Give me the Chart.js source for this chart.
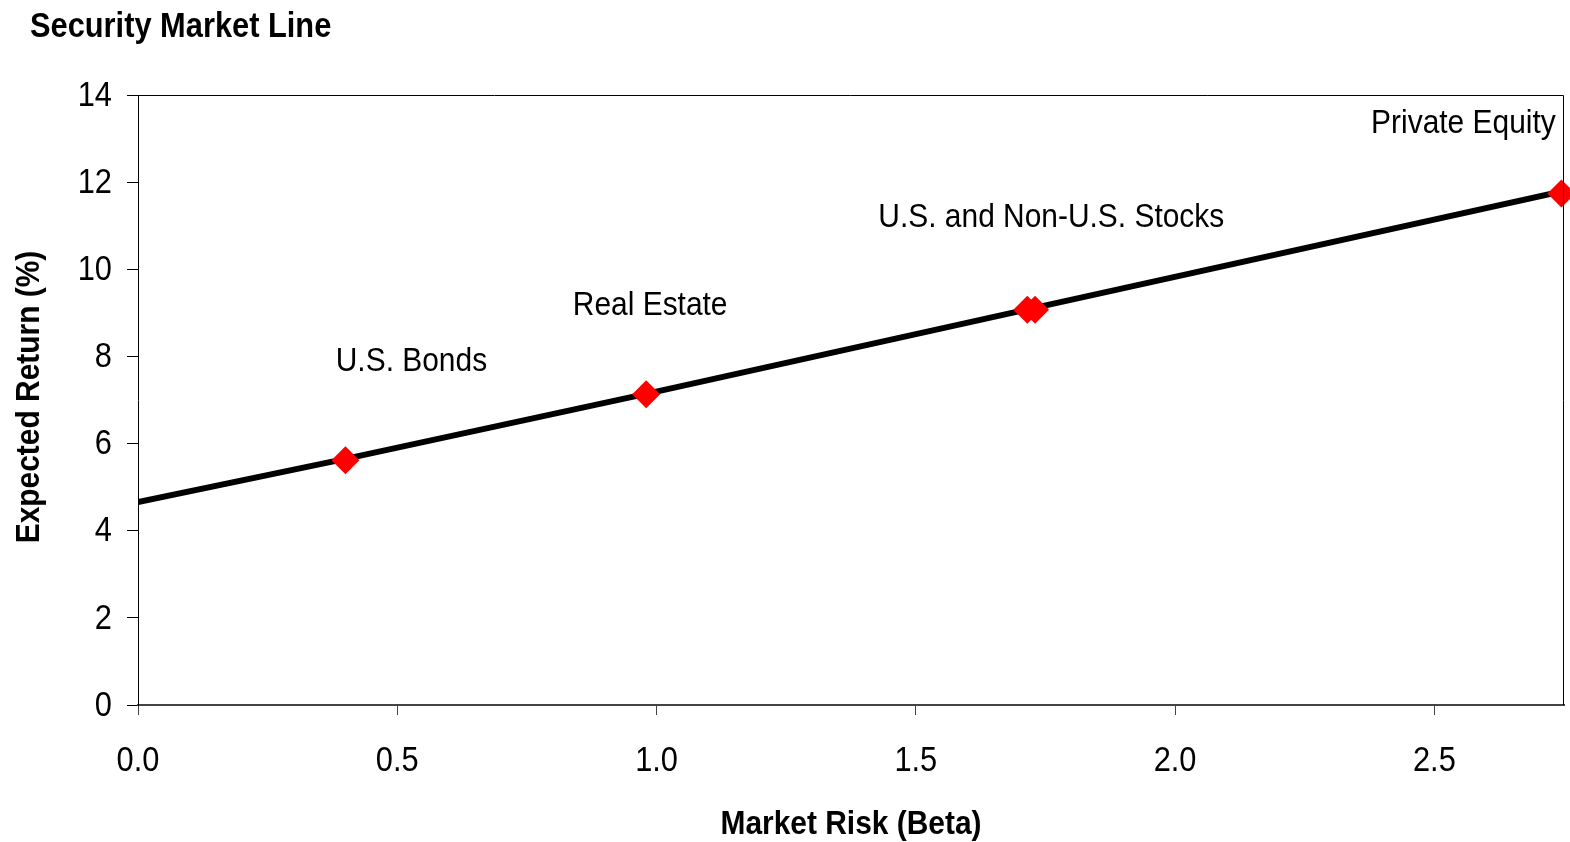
<!DOCTYPE html>
<html>
<head>
<meta charset="utf-8">
<title>Security Market Line</title>
<script src="https://cdn.jsdelivr.net/npm/chart.js@4/dist/chart.umd.min.js"></script>
<style>
  html, body { margin: 0; padding: 0; background: #fff; }
  #smlChart { display: block; }
</style>
</head>
<body>
<canvas id="smlChart" width="1570" height="842"></canvas>
<script>
// ===== Data =====
const assetNames = ['U.S. Bonds', 'Real Estate', 'U.S. Stocks', 'Non-U.S. Stocks', 'Private Equity'];
const assetBeta = [0.40, 0.98, 1.715, 1.73, 2.745];
const assetReturn = [5.62, 7.13, 9.07, 9.07, 11.74];

// security market line
const lineBeta = [0, 0.40, 0.98, 1.72, 2.75];
const lineReturn = [4.66, 5.65, 7.14, 9.09, 11.80];

// labels written next to the points (index into assetBeta/assetReturn)
const labelTexts = ['U.S. Bonds', 'Real Estate', 'U.S. and Non-U.S. Stocks', 'Private Equity'];
const labelPoint = [0, 1, 2, 4];

const xTicks = [0, 0.5, 1.0, 1.5, 2.0, 2.5];
const yTicks = [0, 2, 4, 6, 8, 10, 12, 14];

// ===== Look =====
// no narrow face installed, so Liberation Sans gets squeezed horizontally
const FONT = '"Liberation Sans", Arial, sans-serif';
const SQUEEZE = 0.88;
// pixel offset of each label baseline-centre from its point
const labelOffsets = [[66, -89], [4, -79], [24, -83], [-98, -60]];

function narrowText(ctx, text, x, y, font, align, baseline, angle) {
  ctx.save();
  ctx.translate(x, y);
  if (angle) ctx.rotate(angle);
  ctx.scale(SQUEEZE, 1);
  ctx.font = font;
  ctx.fillStyle = '#000';
  ctx.textAlign = align;
  ctx.textBaseline = baseline;
  ctx.fillText(text, 0, 0);
  ctx.restore();
}

const chartDecor = {
  id: 'chartDecor',
  afterDraw(chart) {
    const { ctx, chartArea: a, scales } = chart;
    const xs = scales.x, ys = scales.y;
    ctx.save();
    // frame around plot (top + right)
    ctx.strokeStyle = '#000';
    ctx.lineWidth = 1;
    ctx.beginPath();
    ctx.moveTo(a.left, a.top + 0.5);
    ctx.lineTo(a.right - 0.5, a.top + 0.5);
    ctx.lineTo(a.right - 0.5, a.bottom);
    ctx.stroke();
    ctx.restore();

    // tick labels
    xs.ticks.forEach(t => {
      narrowText(ctx, t.value.toFixed(1), xs.getPixelForValue(t.value), 761, '35px ' + FONT, 'center', 'middle');
    });
    ys.ticks.forEach(t => {
      narrowText(ctx, String(t.value), 112, ys.getPixelForValue(t.value) + 1, '35px ' + FONT, 'right', 'middle');
    });

    // axis titles
    narrowText(ctx, 'Market Risk (Beta)', (a.left + a.right) / 2, 834, 'bold 34px ' + FONT, 'center', 'alphabetic');
    narrowText(ctx, 'Expected Return (%)', 30, (a.top + a.bottom) / 2 - 3, 'bold 34px ' + FONT, 'center', 'middle', -Math.PI / 2);

    // point labels
    labelTexts.forEach((txt, i) => {
      const p = labelPoint[i];
      const px = xs.getPixelForValue(assetBeta[p]);
      const py = ys.getPixelForValue(assetReturn[p]);
      narrowText(ctx, txt, px + labelOffsets[i][0], py + labelOffsets[i][1], '34px ' + FONT, 'center', 'alphabetic');
    });

    // chart title
    narrowText(ctx, 'Security Market Line', 30, 37, 'bold 35px ' + FONT, 'left', 'alphabetic');
  }
};

new Chart(document.getElementById('smlChart').getContext('2d'), {
  type: 'scatter',
  data: {
    datasets: [
      {
        label: 'Assets',
        data: assetBeta.map((b, i) => ({ x: b, y: assetReturn[i] })),
        pointStyle: 'rectRot',
        pointRadius: 14,
        pointHoverRadius: 14,
        backgroundColor: '#ff0000',
        borderColor: '#ff0000',
        borderWidth: 0,
        clip: false
      },
      {
        label: 'SML',
        type: 'line',
        data: lineBeta.map((b, i) => ({ x: b, y: lineReturn[i] })),
        borderColor: '#000',
        borderWidth: 6,
        pointRadius: 0,
        tension: 0,
        fill: false
      }
    ]
  },
  options: {
    responsive: false,
    devicePixelRatio: 1,
    animation: false,
    events: [],
    layout: { autoPadding: false, padding: { top: 95, right: 6, left: 0, bottom: 0 } },
    plugins: {
      legend: { display: false },
      tooltip: { enabled: false },
      title: { display: false }
    },
    scales: {
      x: {
        type: 'linear',
        min: 0,
        max: 2.75,
        afterFit(scale) { scale.height = 137; },
        afterBuildTicks(scale) { scale.ticks = xTicks.map(v => ({ value: v })); },
        grid: { drawOnChartArea: false, drawTicks: true, tickLength: 10, color: '#444' },
        border: { display: true, color: '#444', width: 2 },
        ticks: { display: false }
      },
      y: {
        type: 'linear',
        min: 0,
        max: 14,
        afterFit(scale) { scale.width = 138; },
        afterBuildTicks(scale) { scale.ticks = yTicks.map(v => ({ value: v })); },
        grid: { drawOnChartArea: false, drawTicks: true, tickLength: 11, color: '#000' },
        border: { display: true, color: '#000', width: 1 },
        ticks: { display: false }
      }
    }
  },
  plugins: [chartDecor]
});
</script>
</body>
</html>
